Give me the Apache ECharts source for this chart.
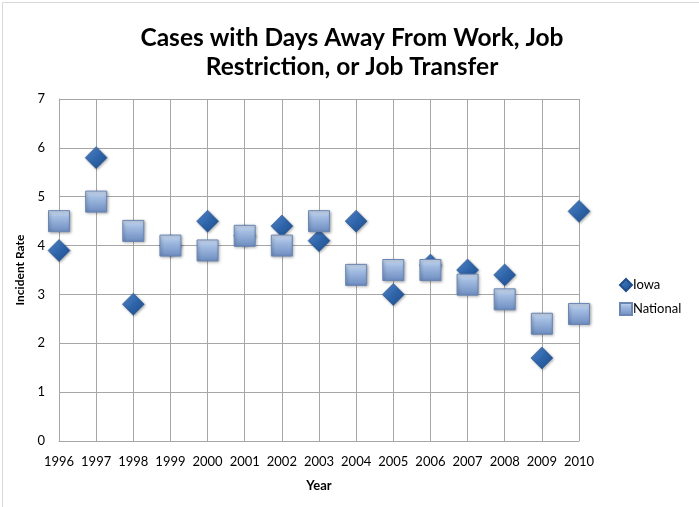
<!DOCTYPE html>
<html>
<head>
<meta charset="utf-8">
<script src="https://cdn.jsdelivr.net/npm/echarts@6/dist/echarts.min.js"></script>
<style>
  html, body { margin: 0; padding: 0; background: #fff; }
  #chart { width: 699px; height: 507px; }
</style>
</head>
<body>
<div id="chart"></div>
<script>
// Incident rates, one entry per year
const years = ['1996', '1997', '1998', '1999', '2000', '2001', '2002', '2003',
  '2004', '2005', '2006', '2007', '2008', '2009', '2010'];
const iowa = [3.9, 5.8, 2.8, 4.0, 4.5, 4.2, 4.4, 4.1, 4.5, 3.0, 3.6, 3.5, 3.4, 1.7, 4.7];
const national = [4.5, 4.9, 4.3, 4.0, 3.9, 4.2, 4.0, 4.5, 3.4, 3.5, 3.5, 3.2, 2.9, 2.4, 2.6];
const yTicks = { min: 0, max: 7, step: 1 };

const FONT = 'Lato, "Open Sans", sans-serif';
const GRID_GRAY = '#a6a6a6';

const diamondFill = new echarts.graphic.LinearGradient(0, 0, 1, 1, [
  { offset: 0, color: '#5b8ed0' },
  { offset: 0.5, color: '#2f65aa' },
  { offset: 1, color: '#1f4e8c' },
]);
const squareFill = new echarts.graphic.LinearGradient(0, 0, 0, 1, [
  { offset: 0, color: '#d3e1f3' },
  { offset: 0.3, color: '#a4bde2' },
  { offset: 1, color: '#6c8cc0' },
]);

const chart = echarts.init(document.getElementById('chart'));
chart.setOption({
  animation: false,
  textStyle: { fontFamily: FONT },
  title: {
    text: 'Cases with Days Away From Work, Job\nRestriction, or Job Transfer',
    left: 347, textAlign: 'center', top: 19,
    textStyle: { fontFamily: FONT, fontSize: 24.5, fontWeight: 'bold', color: '#000', lineHeight: 29 },
  },
  graphic: [{
    type: 'rect', left: 0, top: 0, silent: true, z: -10,
    shape: { x: 0.5, y: 0.5, width: 697, height: 505 },
    style: { fill: 'none', stroke: '#d9d9d9', lineWidth: 1 },
  }],
  legend: {
    orient: 'vertical', left: 614, top: 273, itemGap: 10,
    itemWidth: 12, itemHeight: 12,
    textStyle: { fontFamily: FONT, fontSize: 13, color: '#000', padding: [0, 0, 0, -4] },
    data: [
      { name: 'Iowa', icon: 'diamond' },
      { name: 'National', icon: 'rect' },
    ],
  },
  grid: { left: 59, right: 120, top: 99, bottom: 66, containLabel: false },
  xAxis: {
    type: 'category', data: years, boundaryGap: false,
    name: 'Year', nameLocation: 'middle', nameGap: 38,
    nameTextStyle: { fontFamily: FONT, fontSize: 13, fontWeight: 'bold', color: '#000' },
    axisLine: { show: true, lineStyle: { color: GRID_GRAY } },
    axisTick: { show: false },
    axisLabel: { color: '#000', fontSize: 13, margin: 14, interval: 0 },
    splitLine: { show: true, interval: 0, lineStyle: { color: GRID_GRAY } },
  },
  yAxis: {
    type: 'value', min: yTicks.min, max: yTicks.max, interval: yTicks.step,
    name: 'Incident Rate', nameLocation: 'middle', nameGap: 28,
    nameTextStyle: { fontFamily: FONT, fontSize: 12, fontWeight: 'bold', color: '#000' },
    axisLine: { show: true, lineStyle: { color: GRID_GRAY } },
    axisTick: { show: false },
    axisLabel: { color: '#000', fontSize: 13, margin: 14 },
    splitLine: { show: true, lineStyle: { color: GRID_GRAY } },
  },
  series: [
    {
      name: 'Iowa', type: 'scatter', data: iowa, z: 2,
      symbol: 'diamond', symbolSize: [22, 22],
      itemStyle: { color: diamondFill, opacity: 1, borderColor: '#1f4e8c', borderWidth: 0.5,
        shadowColor: 'rgba(0,0,0,0.35)', shadowBlur: 3, shadowOffsetX: 1, shadowOffsetY: 1 },
    },
    {
      name: 'National', type: 'scatter', data: national, z: 3,
      symbol: 'rect', symbolSize: [21, 21],
      itemStyle: { color: squareFill, opacity: 1, borderColor: '#6a86b3', borderWidth: 1,
        shadowColor: 'rgba(0,0,0,0.35)', shadowBlur: 3, shadowOffsetX: 1, shadowOffsetY: 1 },
    },
  ],
});
</script>
</body>
</html>
